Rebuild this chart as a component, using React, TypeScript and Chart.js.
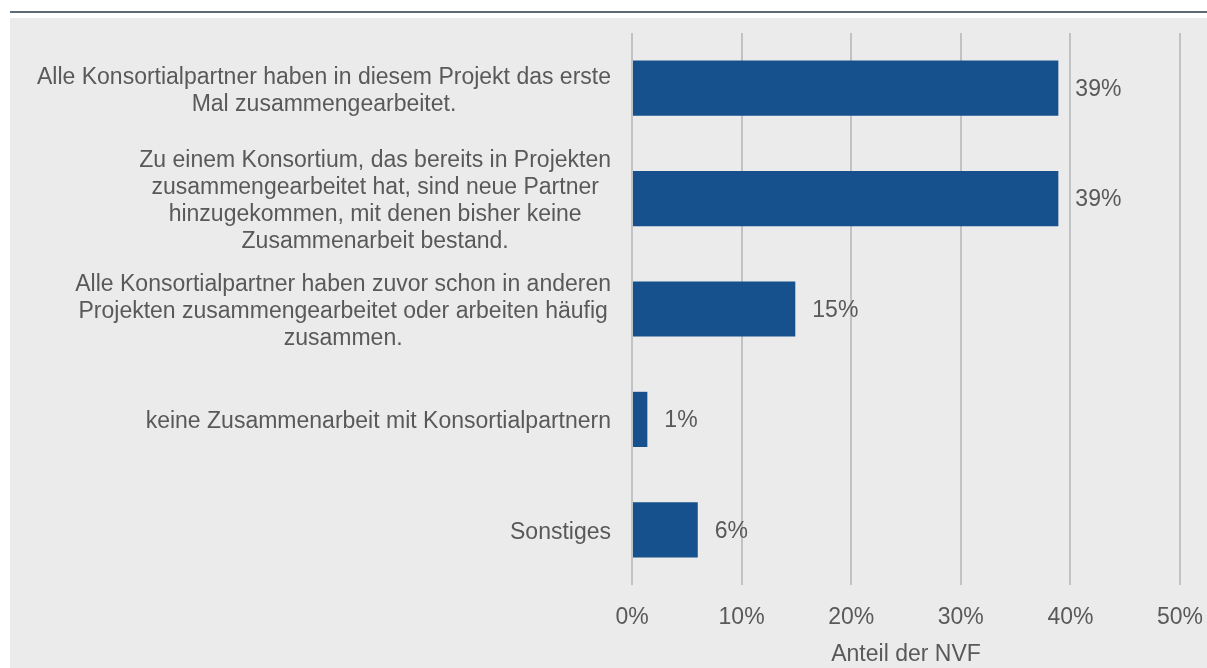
import React, { useEffect, useRef } from "react";
import { Chart, registerables } from "chart.js";

Chart.register(...registerables);

const categories: string[][] = [
  ["Alle Konsortialpartner haben in diesem Projekt das erste", "Mal zusammengearbeitet."],
  [
    "Zu einem Konsortium, das bereits in Projekten",
    "zusammengearbeitet hat, sind neue Partner",
    "hinzugekommen, mit denen bisher keine",
    "Zusammenarbeit bestand.",
  ],
  [
    "Alle Konsortialpartner haben zuvor schon in anderen",
    "Projekten zusammengearbeitet oder arbeiten häufig",
    "zusammen.",
  ],
  ["keine Zusammenarbeit mit Konsortialpartnern"],
  ["Sonstiges"],
];
const shares: number[] = [38.9, 38.9, 14.9, 1.4, 6.0];
const xTickValues: number[] = [0, 10, 20, 30, 40, 50];
const axisTitle = "Anteil der NVF";

const FONT_FAMILY = '"Liberation Sans", Arial, sans-serif';
const FONT_SIZE = 23;
const TEXT_COLOR = "#595959";
const BAR_COLOR = "#16518d";
const GRID_COLOR = "#bfc3c6";

const W = 1207;
const H = 668;

export default function App() {
  const canvasRef = useRef<HTMLCanvasElement | null>(null);

  useEffect(() => {
    const canvas = canvasRef.current;
    if (!canvas) return;

    const yLabelPlugin = {
      id: "yLabelBlocks",
      afterDraw(chart: any) {
        const ctx = chart.ctx;
        const yScale = chart.scales.y;
        const right = chart.chartArea.left - 21;
        const lh = 27;
        ctx.save();
        ctx.font = `${FONT_SIZE}px ${FONT_FAMILY}`;
        ctx.fillStyle = TEXT_COLOR;
        ctx.textAlign = "center";
        ctx.textBaseline = "middle";
        categories.forEach((lines, i) => {
          const cy = yScale.getPixelForTick(i) + 2.5;
          let maxW = 0;
          lines.forEach((l) => {
            maxW = Math.max(maxW, ctx.measureText(l).width);
          });
          const cx = right - maxW / 2;
          const startY = cy - ((lines.length - 1) * lh) / 2;
          lines.forEach((l, j) => {
            ctx.fillText(l, cx, startY + j * lh);
          });
        });
        ctx.restore();
      },
    };

    const valueLabelPlugin = {
      id: "valueLabels",
      afterDatasetsDraw(chart: any) {
        const ctx = chart.ctx;
        const meta = chart.getDatasetMeta(0);
        ctx.save();
        ctx.font = `${FONT_SIZE}px ${FONT_FAMILY}`;
        ctx.fillStyle = TEXT_COLOR;
        ctx.textAlign = "left";
        ctx.textBaseline = "middle";
        meta.data.forEach((bar: any, i: number) => {
          ctx.fillText(`${Math.round(shares[i])}%`, bar.x + 17, bar.y + 1.5);
        });
        ctx.restore();
      },
    };

    const chart = new Chart(canvas, {
      type: "bar",
      data: {
        labels: categories.map((c) => c.join(" ")),
        datasets: [
          {
            data: shares,
            backgroundColor: BAR_COLOR,
            borderWidth: 0,
            categoryPercentage: 1,
            barPercentage: 0.5,
          },
        ],
      },
      options: {
        indexAxis: "y",
        animation: false,
        responsive: false,
        maintainAspectRatio: false,
        layout: { padding: { top: 33, right: 27, bottom: 0, left: 0 } },
        plugins: {
          legend: { display: false },
          tooltip: { enabled: false },
        },
        scales: {
          x: {
            min: 0,
            max: 50,
            afterBuildTicks(scale: any) {
              scale.ticks = xTickValues.map((v) => ({ value: v }));
            },
            afterFit(scale: any) {
              scale.height = 83;
              scale.paddingLeft = 0;
              scale.paddingRight = 0;
            },
            grid: {
              color: GRID_COLOR,
              lineWidth: 2,
              drawTicks: false,
            },
            border: { display: false },
            ticks: {
              padding: 19,
              color: TEXT_COLOR,
              font: { family: FONT_FAMILY, size: FONT_SIZE },
              callback: (v: any) => `${v}%`,
            },
            title: {
              display: true,
              text: axisTitle,
              color: TEXT_COLOR,
              font: { family: FONT_FAMILY, size: FONT_SIZE },
              padding: { top: 0, bottom: 0 },
            },
          },
          y: {
            afterFit(scale: any) {
              scale.width = 632;
            },
            grid: { display: false },
            border: { display: false },
            ticks: { display: false },
          },
        },
      },
      plugins: [yLabelPlugin, valueLabelPlugin],
    });

    return () => {
      chart.destroy();
    };
  }, []);

  return (
    <div style={{ position: "fixed", left: 0, top: 0, width: W, height: H, background: "#ffffff" }}>
      <div style={{ position: "absolute", left: 10, top: 11, width: W - 10, height: 2, background: "#5f6b73" }} />
      <div style={{ position: "absolute", left: 10, top: 18, width: W - 10, height: H - 18, background: "#ebebeb" }} />
      <canvas
        ref={canvasRef}
        width={W}
        height={H}
        style={{ position: "absolute", left: 0, top: 0, width: W, height: H }}
      />
    </div>
  );
}
